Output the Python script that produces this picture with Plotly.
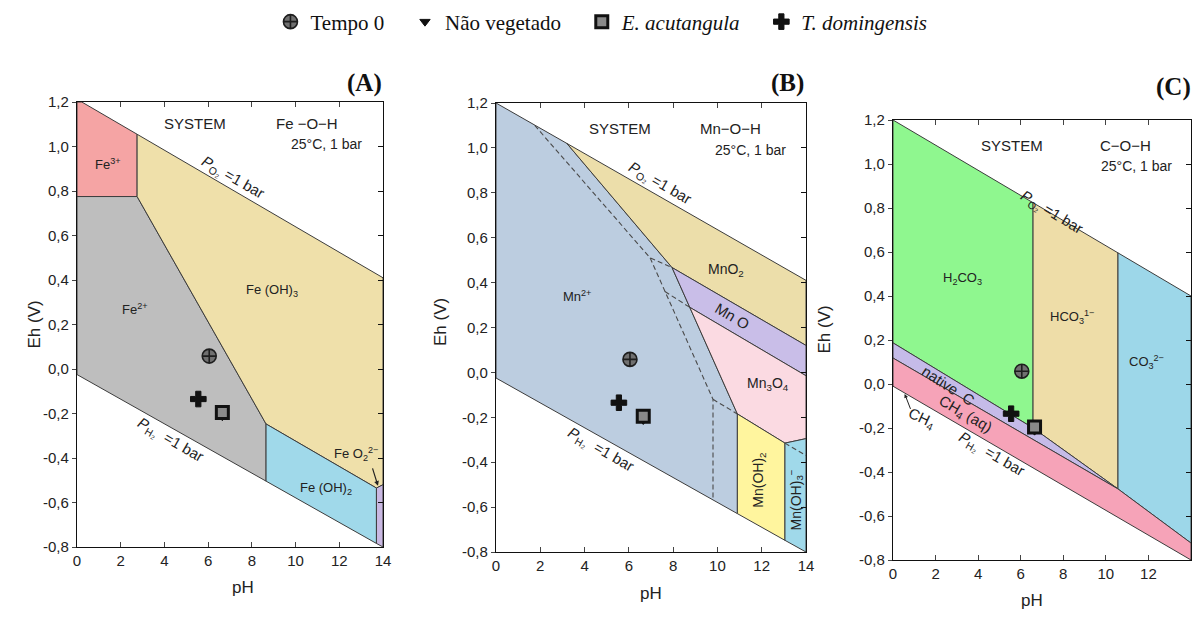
import plotly.graph_objects as go

W, H = 1195, 619

PH_TICKS = [0, 2, 4, 6, 8, 10, 12, 14]
EH_TICKS = [-0.8, -0.6, -0.4, -0.2, 0.0, 0.2, 0.4, 0.6, 0.8, 1.0, 1.2]
EH_TICK_TEXT = ["-0,8", "-0,6", "-0,4", "-0,2", "0,0", "0,2", "0,4", "0,6", "0,8", "1,0", "1,2"]

# ---- Panel A : Fe-O-H  (pH, Eh) vertices of stability fields ----
fe3 = [(0, 1.2), (0.22, 1.2), (2.75, 1.055), (2.75, 0.775), (0, 0.775)]
fe2 = [(0, 0.775), (2.75, 0.775), (8.65, -0.247), (8.65, -0.504), (0, -0.025)]
feoh3 = [(2.75, 1.055), (14, 0.41), (14, -0.52), (13.7, -0.535), (8.65, -0.247), (2.75, 0.775)]
feoh2 = [(8.65, -0.247), (13.7, -0.535), (13.7, -0.784), (8.65, -0.504)]
feo2 = [(13.7, -0.535), (14, -0.52), (14, -0.8), (13.7, -0.784)]

# ---- Panel B : Mn-O-H ----
mn2 = [(0, 1.2), (3.2, 1.02), (7.95, 0.467), (8.75, 0.29), (10.9, -0.185), (10.9, -0.629), (0, -0.025)]
mno2 = [(3.2, 1.02), (14, 0.41), (14, 0.12), (7.95, 0.467)]
mno = [(7.95, 0.467), (14, 0.12), (14, -0.015), (8.75, 0.29)]
mn3o4 = [(8.75, 0.29), (14, -0.015), (14, -0.295), (13.05, -0.315), (10.9, -0.185)]
mnoh2 = [(10.9, -0.185), (13.05, -0.315), (13.05, -0.748), (10.9, -0.629)]
mnoh3 = [(13.05, -0.315), (14, -0.295), (14, -0.8), (13.05, -0.748)]
mn_dash1 = [(1.75, 1.10), (6.96, 0.51), (7.95, 0.467)]
mn_dash2 = [(6.96, 0.51), (7.63, 0.36), (9.8, -0.12), (9.8, -0.568)]
mn_dash3 = [(7.63, 0.36), (8.75, 0.29)]
mn_dash4 = [(9.8, -0.12), (10.9, -0.185)]
mn_dash5 = [(13.05, -0.315), (14, -0.37)]

# ---- Panel C : C-O-H ----
h2co3 = [(0, 1.2), (6.58, 0.824), (6.58, -0.2), (0, 0.187)]
hco3 = [(6.58, 0.824), (10.57, 0.596), (10.57, -0.477), (6.58, -0.2)]
co3 = [(10.57, 0.596), (14, 0.4), (14, -0.723), (10.57, -0.477)]
native_c = [(0, 0.187), (6.58, -0.2), (10.57, -0.477), (0, 0.118)]
ch4aq = [(0, 0.118), (10.57, -0.477), (14, -0.723), (14, -0.8), (0, -0.01)]

# ---- Samples ----
sample_names = ["Tempo 0", "Não vegetado", "<i>E. acutangula</i>", "<i>T. domingensis</i>"]
sample_ph = [6.05, 6.65, 6.65, 5.55]
sample_eh = [0.058, -0.212, -0.195, -0.135]

# panel domains in pixels (left, right, top, bottom)
panels = [(77, 383, 102, 547), (496, 806, 103, 552), (893, 1191, 120, 560)]

fig = go.Figure()
EDGE = "#3c3c3c"


def poly(pts, color, ax):
    fig.add_trace(go.Scatter(
        x=[p[0] for p in pts] + [pts[0][0]], y=[p[1] for p in pts] + [pts[0][1]],
        mode="lines", fill="toself", fillcolor=color,
        line=dict(color=EDGE, width=1), hoverinfo="skip", showlegend=False,
        xaxis="x" + ax, yaxis="y" + ax))


def dash(pts, ax):
    fig.add_trace(go.Scatter(
        x=[p[0] for p in pts], y=[p[1] for p in pts], mode="lines",
        line=dict(color="#4a4a4a", width=1.1, dash="5px,3px"), hoverinfo="skip",
        showlegend=False, xaxis="x" + ax, yaxis="y" + ax))


poly(fe3, "#F5A4A4", "")
poly(fe2, "#BEBEBE", "")
poly(feoh3, "#EFE0AA", "")
poly(feoh2, "#A0D9EA", "")
poly(feo2, "#C9B8E2", "")

poly(mn2, "#BCCDE0", "2")
poly(mno2, "#ECDEAA", "2")
poly(mno, "#C9BEE8", "2")
poly(mn3o4, "#FBDAE2", "2")
poly(mnoh2, "#FFF59E", "2")
poly(mnoh3, "#A0D9EA", "2")
for d in (mn_dash1, mn_dash2, mn_dash3, mn_dash4, mn_dash5):
    dash(d, "2")

poly(h2co3, "#8FF78F", "3")
poly(hco3, "#EEDDA8", "3")
poly(co3, "#9DD7E9", "3")
poly(native_c, "#C5BBE8", "3")
poly(ch4aq, "#F6A3B8", "3")

marker_styles = [
    dict(symbol="circle-cross", size=14, color="#707070", line=dict(color="#1e1e1e", width=1.6)),
    dict(symbol="triangle-down", size=9, color="#111111", line=dict(color="#111111", width=1)),
    dict(symbol="square", size=12, color="#8a8a8a", line=dict(color="#111111", width=3)),
    dict(symbol="cross", size=13, color="#111111", line=dict(color="#111111", width=1)),
]
for k, ax in enumerate(["", "2", "3"]):
    for i in range(4):
        fig.add_trace(go.Scatter(
            x=[sample_ph[i]], y=[sample_eh[i]], mode="markers", name=sample_names[i] + "   ",
            marker=marker_styles[i], showlegend=(k == 0), hoverinfo="skip",
            xaxis="x" + ax, yaxis="y" + ax))

layout = dict(
    width=W, height=H, margin=dict(l=0, r=0, t=0, b=0),
    paper_bgcolor="white", plot_bgcolor="white",
    font=dict(family="Liberation Sans, Arial, sans-serif", color="#222", size=13),
    legend=dict(orientation="h", x=0.51, xanchor="center", y=1 - 22 / H, yanchor="middle",
                font=dict(family="Liberation Serif, Times New Roman, serif", size=21, color="#111"),
                itemwidth=30, tracegroupgap=0, bgcolor="rgba(0,0,0,0)"),
)

names = ["", "2", "3"]
for k, (l, r, t, b) in enumerate(panels):
    n = names[k]
    xd = [l / W, r / W]
    yd = [1 - b / H, 1 - t / H]
    layout["xaxis" + n] = dict(domain=xd, range=[0, 14], anchor="y" + n, tickvals=PH_TICKS,
                               ticks="inside", ticklen=5, mirror="ticks", showline=True,
                               linecolor="#111", linewidth=1.3, showgrid=False, zeroline=False,
                               tickfont=dict(size=15, color="#222"), automargin=False)
    layout["yaxis" + n] = dict(domain=yd, range=[-0.8, 1.2], anchor="x" + n, tickvals=EH_TICKS,
                               ticktext=EH_TICK_TEXT, ticks="outside", ticklen=4, mirror=True,
                               showline=True, linecolor="#111", linewidth=1.3, showgrid=False,
                               zeroline=False, tickfont=dict(size=15, color="#222"), automargin=False)
    rn = str(4 + k)
    layout["yaxis" + rn] = dict(overlaying="y" + n, anchor="x" + n, side="right", range=[-0.8, 1.2],
                                tickvals=EH_TICKS, ticks="inside", ticklen=5, showticklabels=False,
                                showline=False, showgrid=False, zeroline=False, tickcolor="#111")
fig.update_layout(**layout)
# dummy trace so the right-hand tick axes are rendered
for k in range(3):
    fig.add_trace(go.Scatter(x=[None], y=[None], xaxis="x" + names[k], yaxis="y" + str(4 + k),
                             showlegend=False, hoverinfo="skip"))

ann = []


def txt(text, x, y, ax, size=14, angle=0, xanchor="center"):
    ann.append(dict(text=text, x=x, y=y, xref="x" + ax, yref="y" + ax, showarrow=False,
                    textangle=angle, xanchor=xanchor, yanchor="middle",
                    font=dict(size=size, color="#222")))


# Panel A labels
txt("SYSTEM", 5.4, 1.105, "", 15)
txt("Fe −O−H", 10.5, 1.105, "", 15)
txt("25°C, 1 bar", 11.4, 1.01, "", 14)
txt("<i>P</i><sub>O₂</sub> =1 bar", 7.1, 0.86, "", 15, 30)
txt("<i>P</i><sub>H₂</sub>  =1 bar", 4.3, -0.32, "", 15, 30)
txt("Fe<sup>3+</sup>", 1.4, 0.92, "", 13)
txt("Fe<sup>2+</sup>", 2.65, 0.27, "", 13)
txt("Fe (OH)<sub>3</sub>", 8.9, 0.355, "", 13)
txt("Fe (OH)<sub>2</sub>", 11.4, -0.535, "", 13)
txt("Fe O<sub>2</sub><sup>2−</sup>", 12.75, -0.38, "", 13)
ann.append(dict(text="", x=13.77, y=-0.525, ax=13.5, ay=-0.44, xref="x", yref="y",
                axref="x", ayref="y", showarrow=True, arrowhead=2, arrowsize=0.8,
                arrowwidth=1.2, arrowcolor="#222"))

# Panel B labels
txt("SYSTEM", 5.6, 1.085, "2", 15)
txt("Mn−O−H", 10.6, 1.085, "2", 15)
txt("25°C, 1 bar", 11.5, 0.99, "2", 14)
txt("<i>P</i><sub>O₂</sub> =1 bar", 7.4, 0.84, "2", 15, 30)
txt("<i>P</i><sub>H₂</sub>  =1 bar", 4.7, -0.345, "2", 15, 30)
txt("Mn<sup>2+</sup>", 3.65, 0.34, "2", 13)
txt("MnO<sub>2</sub>", 10.4, 0.455, "2", 14)
txt("Mn O", 10.7, 0.25, "2", 15, 31)
txt("Mn<sub>3</sub>O<sub>4</sub>", 12.3, -0.05, "2", 14)
txt("Mn(OH)<sub>2</sub>", 11.9, -0.48, "2", 14, -90)
txt("Mn(OH)<sub>3</sub><sup>−</sup>", 13.55, -0.57, "2", 14, -90)

# Panel C labels
txt("SYSTEM", 5.6, 1.086, "3", 15)
txt("C−O−H", 10.9, 1.086, "3", 15)
txt("25°C, 1 bar", 11.45, 0.99, "3", 14)
txt("<i>P</i><sub>O₂</sub> =1 bar", 7.45, 0.78, "3", 15, 31)
txt("<i>P</i><sub>H₂</sub>  =1 bar", 4.65, -0.32, "3", 15, 30)
txt("H<sub>2</sub>CO<sub>3</sub>", 3.25, 0.48, "3", 13)
txt("HCO<sub>3</sub><sup>1−</sup>", 8.4, 0.305, "3", 13)
txt("CO<sub>3</sub><sup>2−</sup>", 11.9, 0.1, "3", 13)
txt("native  C", 2.6, -0.005, "3", 15, 33)
txt("CH<sub>4</sub> (aq)", 3.4, -0.14, "3", 15, 30)
txt("CH<sub>4</sub>", 1.35, -0.155, "3", 15, 25)
ann.append(dict(text="", x=0.55, y=-0.045, ax=0.85, ay=-0.12, xref="x3", yref="y3",
                axref="x3", ayref="y3", showarrow=True, arrowhead=2, arrowsize=0.8,
                arrowwidth=1, arrowcolor="#222"))

# panel letters and axis titles (paper coordinates)
for lab, xr, yp in [("(A)", 384, 83), ("(B)", 806, 83), ("(C)", 1193, 87)]:
    ann.append(dict(text="<b>" + lab + "</b>", x=xr / W, y=1 - yp / H, xref="paper", yref="paper",
                    xanchor="right", yanchor="middle", showarrow=False,
                    font=dict(family="Liberation Serif, Times New Roman, serif", size=25, color="#111")))
for xp, yp in [(230, 599), (651, 605), (1045, 612)]:
    ann.append(dict(text="pH", x=xp / W, y=1 - yp / H, xref="paper", yref="paper",
                    showarrow=False, font=dict(size=17, color="#222")))
for xp, yp in [(22, 325), (440, 322), (835, 330)]:
    ann.append(dict(text="Eh (V)", x=xp / W, y=1 - yp / H, xref="paper", yref="paper",
                    textangle=-90, showarrow=False, font=dict(size=17, color="#222")))

fig.update_layout(annotations=ann)
fig.write_html("out.html")
